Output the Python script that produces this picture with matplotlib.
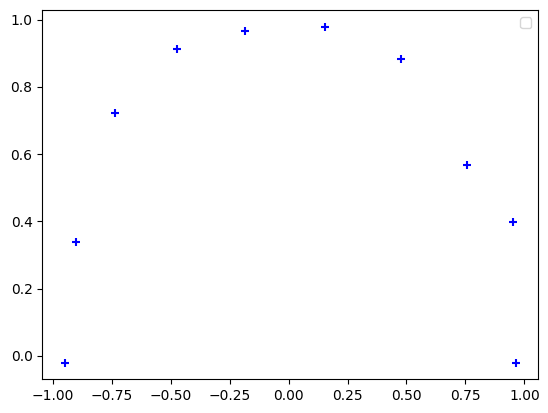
import matplotlib
matplotlib.use("Agg")
import matplotlib.pyplot as plt

x_values = [-0.949, -0.901, -0.736, -0.474, -0.1845, 0.155, 0.477, 0.757, 0.951, 0.9635]
y_values = [-0.020, 0.339, 0.7226, 0.9127, 0.966, 0.978, 0.883, 0.569, 0.399, -0.020]

fig = plt.figure(figsize=(5.48, 4.13), dpi=100)
W, H = 548, 413
ax = fig.add_axes([42.3 / W, (H - 379.3) / H, 496 / W, 369 / H])
ax.scatter(x_values, y_values, marker='+', color='blue')
ax.legend()
fig.savefig("out.png", dpi=100)
